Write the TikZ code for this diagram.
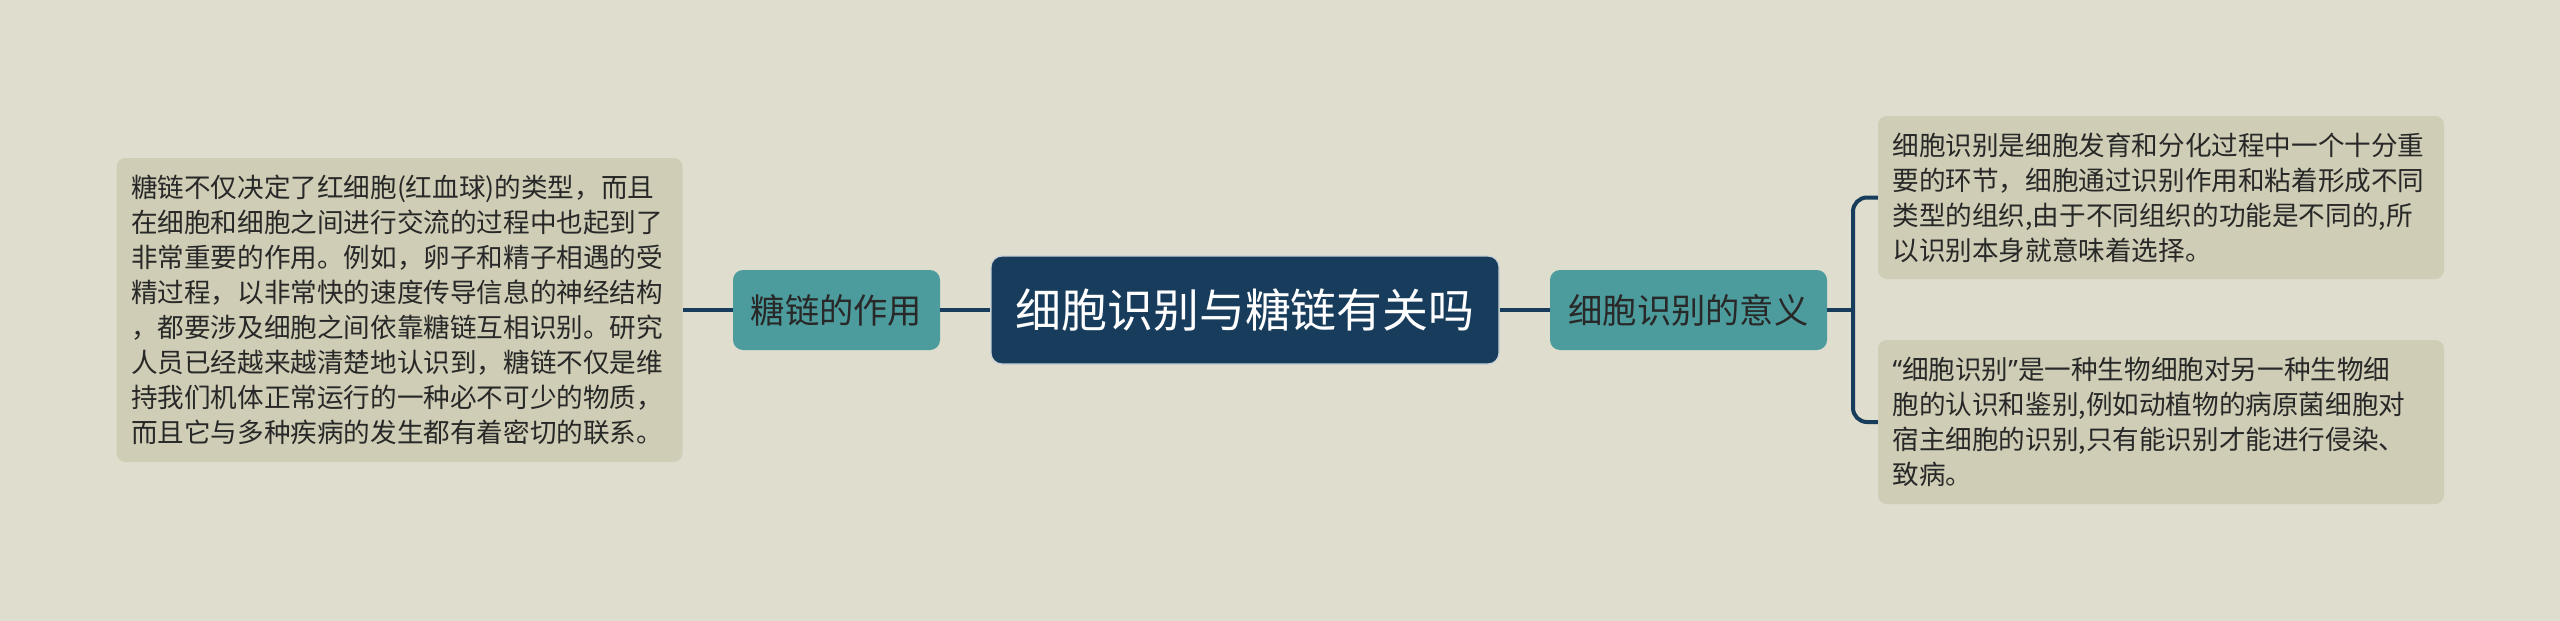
\documentclass[tikz,border=0pt]{standalone}
\usepackage{fontspec}
\setmainfont{Noto Sans CJK SC}
\newfontfamily\cjk{Noto Sans CJK SC}
\newfontfamily\latinq{Noto Sans}
\definecolor{bgc}{RGB}{223,221,206}
\definecolor{boxc}{RGB}{207,205,181}
\definecolor{tealc}{RGB}{77,156,157}
\definecolor{navyc}{RGB}{24,61,92}
\definecolor{txtc}{RGB}{40,40,40}
\tikzset{
  conn/.style={draw=navyc, line width=4pt},
  leaf/.style={fill=boxc, rounded corners=9pt, text=txtc, align=left,
    text width=537pt, inner xsep=14.5pt, inner ysep=0pt,
    font=\cjk\fontsize{26.6}{35}\selectfont},
  sub/.style={fill=tealc, rounded corners=10pt, text=txtc, inner sep=0pt,
    minimum height=80pt, font=\cjk\fontsize{34.3}{40}\selectfont},
  root/.style={fill=navyc, draw={rgb,255:red,200;green,210;blue,215}, line width=1.2pt,
    rounded corners=11pt, text=white, inner sep=0pt,
    minimum width=508pt, minimum height=108pt, font=\cjk\fontsize{45.9}{52}\selectfont},
}
\begin{document}
\begin{tikzpicture}[x=1pt,y=-1pt]
\useasboundingbox[fill=bgc] (0,0) rectangle (2560,621);
\node[root] (c) at (1245,310) {细胞识别与糖链有关吗};
\node[sub, minimum width=207pt] (lt) at (836.5,310) {糖链的作用};
\node[sub, minimum width=277pt] (rt) at (1688.5,310) {细胞识别的意义};
\node[leaf, minimum height=304pt] (lb) at (399.5,310) {糖链不仅决定了红细胞(红血球)的类型，而且\\在细胞和细胞之间进行交流的过程中也起到了\\非常重要的作用。例如，卵子和精子相遇的受\\精过程，以非常快的速度传导信息的神经结构\\，都要涉及细胞之间依靠糖链互相识别。研究\\人员已经越来越清楚地认识到，糖链不仅是维\\持我们机体正常运行的一种必不可少的物质，\\而且它与多种疾病的发生都有着密切的联系。};
\node[leaf, minimum height=163pt] (r1) at (2161,197.5) {细胞识别是细胞发育和分化过程中一个十分重\\要的环节，细胞通过识别作用和粘着形成不同\\类型的组织,由于不同组织的功能是不同的,所\\以识别本身就意味着选择。};
\node[leaf, minimum height=164pt] (r2) at (2161,422) {{\latinq “}细胞识别{\latinq ”}是一种生物细胞对另一种生物细\\胞的认识和鉴别,例如动植物的病原菌细胞对\\宿主细胞的识别,只有能识别才能进行侵染、\\致病。};
\coordinate (br) at (1853,310);
\draw[conn] (lb.east) -- (lt.west);
\draw[conn] (lt.east) -- (c.west);
\draw[conn] (c.east) -- (rt.west);
\draw[conn] (rt.east) -- (br);
\draw[conn, rounded corners=14pt] (r1.west) -| (br) |- (r2.west);
\end{tikzpicture}
\end{document}
